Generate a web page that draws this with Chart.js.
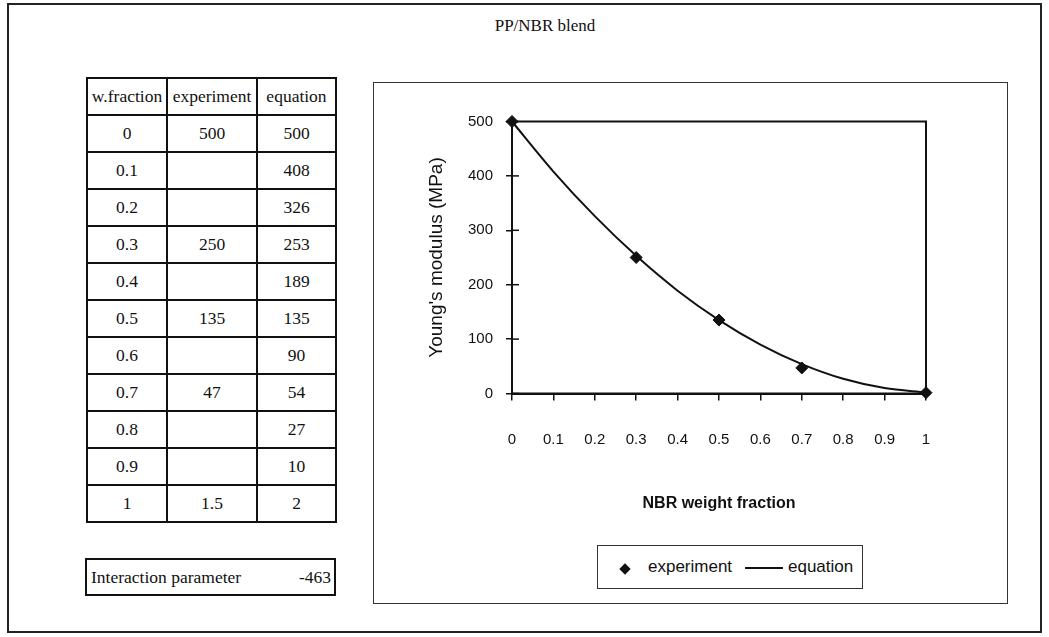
<!DOCTYPE html>
<html>
<head>
<meta charset="utf-8">
<title>PP/NBR blend</title>
<script src="https://cdn.jsdelivr.net/npm/chart.js@4.4.1/dist/chart.umd.min.js"></script>
<style>
  html, body { margin: 0; padding: 0; background: #fff; }
  body { width: 1049px; height: 637px; position: relative; overflow: hidden; }
  .frame { position: absolute; left: 7px; top: 3px; width: 1035px; height: 630px;
           border: 2px solid #222; box-sizing: border-box; }
  .sheet-title { position: absolute; left: 445px; width: 200px; top: 16px; text-align: center;
                 font: 17px "Liberation Serif", "Times New Roman", serif; color: #111; }
  table.data { position: absolute; left: 86px; top: 77px; border-collapse: collapse;
               font: 17.5px "Liberation Serif", "Times New Roman", serif; color: #111; }
  table.data td { border: 2px solid #111; height: 35px; padding: 0; text-align: center; }
  .param { position: absolute; left: 85px; top: 558px; width: 251px; height: 38px;
           border: 2px solid #111; box-sizing: border-box;
           font: 17.5px "Liberation Serif", "Times New Roman", serif; color: #111; }
  .param span { position: absolute; top: 7px; }
  .chart-box { position: absolute; left: 373px; top: 82px; width: 635px; height: 522px;
               border: 1px solid #333; box-sizing: border-box; }
  .chart-wrap { position: absolute; left: 0; top: 0; width: 633px; height: 520px; }
  .legend { position: absolute; left: 223px; top: 462px; width: 266px; height: 44px;
            border: 1px solid #333; box-sizing: border-box; background: #fff;
            font: 17px "Liberation Sans", Arial, sans-serif; color: #111; }
  .legend .mark { position: absolute; top: 19px; left: 23px; width: 8px; height: 8px;
                  background: #111; transform: rotate(45deg); }
  .legend .line { position: absolute; top: 21px; left: 147px; width: 38px; height: 2px; background: #111; }
  .legend .txt { position: absolute; top: 11px; }
</style>
</head>
<body>
<div class="frame"></div>
<div class="sheet-title">PP/NBR blend</div>
<table class="data" id="dataTable"></table>
<div class="param"><span style="left:4px">Interaction parameter</span><span id="paramValue" style="right:3px"></span></div>

<div class="chart-box">
  <div class="chart-wrap"><canvas id="modulusChart"></canvas></div>
  <div class="legend" id="legend"></div>
</div>

<script>
// NBR weight fraction and Young's modulus (MPa)
const wFraction = [0, 0.1, 0.2, 0.3, 0.4, 0.5, 0.6, 0.7, 0.8, 0.9, 1];
const experiment = [500, null, null, 250, null, 135, null, 47, null, null, 1.5];
const equation = [500, 408, 326, 253, 189, 135, 90, 54, 27, 10, 2];
const xTickLabels = ['0', '0.1', '0.2', '0.3', '0.4', '0.5', '0.6', '0.7', '0.8', '0.9', '1'];
const yTickValues = [0, 100, 200, 300, 400, 500];
const interactionParameter = -463;

// --- spreadsheet table on the left ---
const table = document.getElementById('dataTable');
const colWidths = [78, 88, 77];
let rows = '<tr><td style="width:' + colWidths[0] + 'px">w.fraction</td><td style="width:' + colWidths[1] +
  'px">experiment</td><td style="width:' + colWidths[2] + 'px">equation</td></tr>';
wFraction.forEach((w, i) => {
  const exp = experiment[i] === null ? '' : experiment[i];
  rows += '<tr><td>' + w + '</td><td>' + exp + '</td><td>' + equation[i] + '</td></tr>';
});
table.innerHTML = rows;
document.getElementById('paramValue').textContent = interactionParameter;

// plot area border plus the inner half of the y tick marks
const plotFrame = {
  id: 'plotFrame',
  beforeDatasetsDraw(chart) {
    const { ctx, chartArea: a, scales } = chart;
    ctx.save();
    ctx.strokeStyle = '#111';
    ctx.lineWidth = 2;
    ctx.strokeRect(a.left, a.top, a.right - a.left, a.bottom - a.top);
    ctx.lineWidth = 1.5;
    yTickValues.forEach(v => {
      const y = scales.y.getPixelForValue(v);
      ctx.beginPath();
      ctx.moveTo(a.left, y);
      ctx.lineTo(a.left + 7, y);
      ctx.stroke();
    });
    ctx.restore();
  }
};

Chart.defaults.font.family = "'Liberation Sans', Arial, sans-serif";
Chart.defaults.color = '#111';

const chart = new Chart(document.getElementById('modulusChart'), {
  type: 'line',
  data: {
    datasets: [
      {
        label: 'experiment',
        data: wFraction.map((w, i) => ({ x: w, y: experiment[i] })).filter(p => p.y !== null),
        showLine: false,
        pointStyle: 'rectRot',
        pointRadius: 6,
        pointBackgroundColor: '#111',
        pointBorderColor: '#111',
        borderColor: '#111',
        clip: false
      },
      {
        label: 'equation',
        data: wFraction.map((w, i) => ({ x: w, y: equation[i] })),
        borderColor: '#111',
        borderWidth: 2,
        pointRadius: 0,
        cubicInterpolationMode: 'monotone',
        clip: false
      }
    ]
  },
  options: {
    responsive: true,
    maintainAspectRatio: false,
    animation: false,
    layout: { padding: { top: 38.5, right: 81, left: 0, bottom: 0 } },
    plugins: {
      legend: { display: false },
      tooltip: { enabled: false }
    },
    scales: {
      x: {
        type: 'linear',
        min: 0,
        max: 1,
        afterFit: scale => { scale.height = 209.5; },
        afterBuildTicks: scale => { scale.ticks = wFraction.map(v => ({ value: v })); },
        grid: { drawOnChartArea: false, tickLength: 7, color: '#111', tickColor: '#111', lineWidth: 1.5 },
        border: { color: '#111', width: 2 },
        ticks: {
          padding: 30,
          maxRotation: 0,
          font: { size: 15 },
          callback: (v, i) => xTickLabels[i]
        },
        title: {
          display: true,
          text: 'NBR weight fraction',
          font: { size: 16, weight: 'bold' },
          padding: { top: 0, bottom: 90 }
        }
      },
      y: {
        min: 0,
        max: 500,
        afterFit: scale => { scale.width = 138; },
        afterBuildTicks: scale => { scale.ticks = yTickValues.map(v => ({ value: v })); },
        grid: { drawOnChartArea: false, tickLength: 6, color: '#111', tickColor: '#111', lineWidth: 1.5 },
        border: { color: '#111', width: 2 },
        ticks: { padding: 13, font: { size: 15 } },
        title: {
          display: true,
          text: "Young's modulus (MPa)",
          font: { size: 19 },
          padding: { top: 51, bottom: 0 }
        }
      }
    }
  },
  plugins: [plotFrame]
});

// legend box under the plot, built from the datasets
const legend = document.getElementById('legend');
const [expSet, eqSet] = chart.data.datasets;
legend.innerHTML =
  '<div class="mark"></div><span class="txt" style="left:50px">' + expSet.label + '</span>' +
  '<div class="line"></div><span class="txt" style="left:190px">' + eqSet.label + '</span>';
</script>
</body>
</html>
